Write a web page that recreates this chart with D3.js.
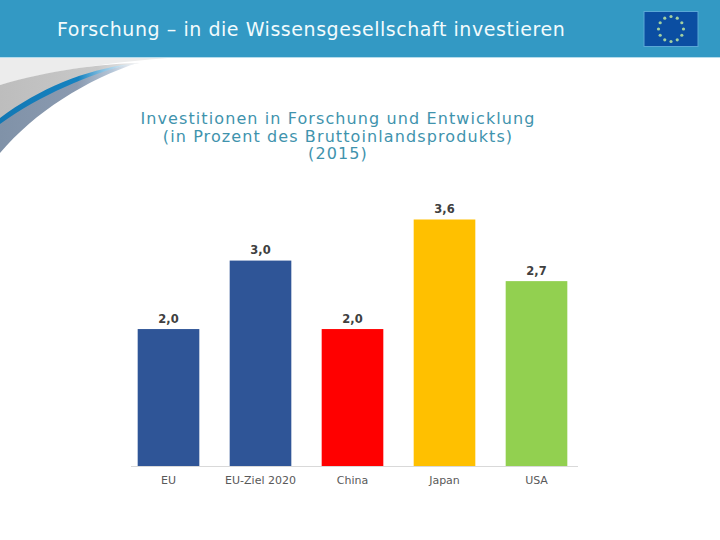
<!DOCTYPE html>
<html><head><meta charset="utf-8">
<script src="https://cdnjs.cloudflare.com/ajax/libs/d3/7.8.5/d3.min.js"></script>
<style>html,body{margin:0;padding:0;background:#fff}svg{display:block}</style>
</head><body><svg id="c" width="720" height="540"></svg>
<script>
const categories = ["EU","EU-Ziel 2020","China","Japan","USA"];
const values = [2.0,3.0,2.0,3.6,2.7];
const valueLabels = ["2,0","3,0","2,0","3,6","2,7"];
const barColors = ["#2f5597","#2f5597","#ff0000","#ffc000","#92d050"];
const pageTitle = "Forschung – in die Wissensgesellschaft investieren";
const chartTitle = ["Investitionen in Forschung und Entwicklung","(in Prozent des Bruttoinlandsprodukts)","(2015)"];

const svg = d3.select("#c");
const defs = svg.append("defs");
function grad(id, stops){
  const g = defs.append("linearGradient").attr("id",id).attr("x1","0").attr("x2","1").attr("y1","0").attr("y2","0");
  stops.forEach(s=>g.append("stop").attr("offset",s[0]).attr("stop-color",s[1]));
}
grad("gSlate",[[0,"#8092a8"],[0.55,"#8a9ab0"],[0.8,"#b5c6d8"],[1,"#ffffff"]]);
grad("gBlue",[[0,"#1278b4"],[0.6,"#1582c0"],[0.8,"#8cc4e4"],[1,"#e8f2f8"]]);
grad("gGrey",[[0,"#bdbdbd"],[0.7,"#c8c8c8"],[1,"#eeeeee"]]);

// header band
svg.append("rect").attr("x",0).attr("y",0).attr("width",720).attr("height",57).attr("fill","#3399c4");
svg.append("rect").attr("x",0).attr("y",57).attr("width",720).attr("height",1).attr("fill","#b5dcec");

// swoosh decoration
svg.append("path").attr("d","M0,58 L168,58 C120,62 60,68 0,85 Z").attr("fill","#ececec");
svg.append("path").attr("d","M0,85 C50,70 100,64 140,63 C90,72 40,88 0,122 Z").attr("fill","url(#gGrey)");
svg.append("path").attr("d","M0,153 C35,112 85,80 140,62 C90,72 40,90 0,123 Z").attr("fill","url(#gSlate)");
svg.append("path").attr("d","M0,118 C40,88 85,70 130,64 C90,74 40,95 0,124 Z").attr("fill","url(#gBlue)");

// flag
const flagX=644, flagY=11.5, flagW=54, flagH=35;
svg.append("rect").attr("x",flagX).attr("y",flagY).attr("width",flagW).attr("height",flagH).attr("fill","#0b4ea2").attr("stroke","#5aa8d6").attr("stroke-width",1);
d3.range(12).forEach(i=>{
  const a=i*Math.PI/6;
  svg.append("circle").attr("cx",flagX+flagW/2+Math.sin(a)*12.5).attr("cy",flagY+flagH/2-Math.cos(a)*12.5).attr("r",1.6).attr("fill","#a3d0a0");
});

// page title
svg.append("text").attr("x",57).attr("y",36).attr("fill","#f2fbfd").attr("letter-spacing",0.55)
  .attr("font-family","'DejaVu Sans'").attr("font-size",19).text(pageTitle);

// chart title
svg.append("g").selectAll("text").data(chartTitle).join("text")
  .attr("x",338).attr("y",(d,i)=>124+i*17.5).attr("text-anchor","middle").attr("letter-spacing",1.1)
  .attr("fill","#3f93ad").attr("font-family","'DejaVu Sans'").attr("font-size",16).text(d=>d);

// chart
const x = d3.scaleBand().domain(categories).range([122.5,582.5]).paddingInner(0.33).paddingOuter(0.165);
const y = d3.scaleLinear().domain([0,3.6]).range([466,219.5]);

svg.append("g").selectAll("rect").data(categories).join("rect")
  .attr("x",d=>x(d)).attr("width",x.bandwidth())
  .attr("y",(d,i)=>y(values[i])).attr("height",(d,i)=>y(0)-y(values[i]))
  .attr("fill",(d,i)=>barColors[i]);

svg.append("line").attr("x1",131).attr("x2",578).attr("y1",466.5).attr("y2",466.5).attr("stroke","#d9d9d9").attr("stroke-width",1);

svg.append("g").selectAll("text").data(categories).join("text")
  .attr("x",(d,i)=>x(d)+x.bandwidth()/2).attr("y",(d,i)=>y(values[i])-6.5).attr("text-anchor","middle")
  .attr("fill","#404040").attr("font-family","'DejaVu Sans'").attr("font-weight","bold").attr("font-size",11.5)
  .text((d,i)=>valueLabels[i]);

const axis = d3.axisBottom(x).tickSize(0).tickPadding(10.5);
const ax = svg.append("g").attr("transform","translate(0,466)").call(axis);
ax.select(".domain").remove();
ax.selectAll("text").attr("fill","#595959").attr("font-family","'DejaVu Sans'").attr("font-size",11);
</script></body></html>
